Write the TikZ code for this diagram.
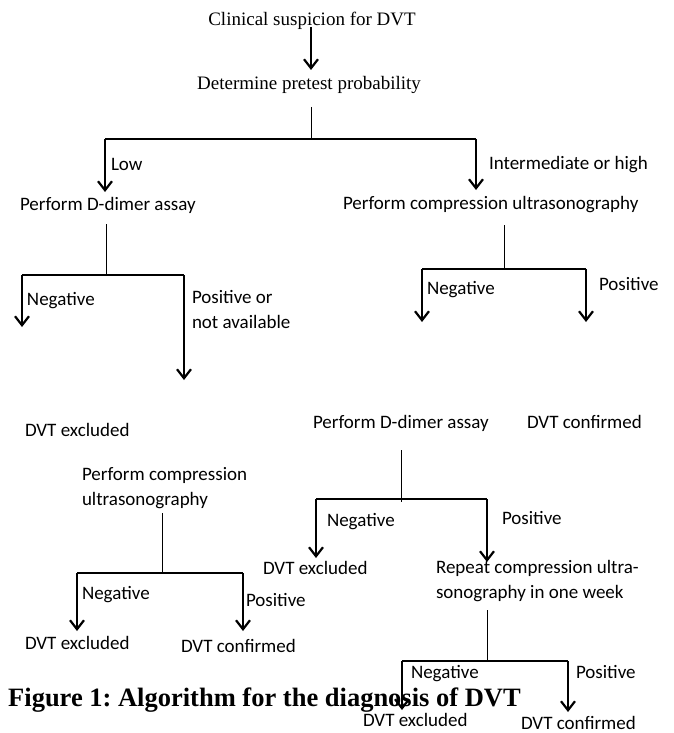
\documentclass[tikz,border=0pt]{standalone}
\usepackage{fontspec}
\setmainfont{Liberation Serif}
\newfontfamily\calib{Carlito}
\usetikzlibrary{arrows.meta}
\frenchspacing
\begin{document}
\begin{tikzpicture}[x=1pt,y=-1pt,
  lbl/.style={inner sep=0pt, outer sep=0pt, font=\calib\fontsize{19}{25}\selectfont, anchor=base west, align=left},
  ser/.style={inner sep=0pt, outer sep=0pt, font=\fontsize{19}{23}\selectfont, anchor=base},
  stem/.style={line width=0.9pt},
  bar/.style={line width=1.3pt},
  arr/.style={line width=2.2pt, -{Straight Barb[length=9pt,width=14pt]}}]
\useasboundingbox[fill=white] (0,0) rectangle (673,733);
% texts
\node[ser] (c1) at (312,26) {Clinical suspicion for DVT};
\node[ser] (c2) at (309,90) {Determine pretest probability};
\node[lbl] (low) at (111,170) {Low};
\node[lbl] (int) at (489,169) {Intermediate or high};
\node[lbl] (pd1) at (20,210) {Perform D-dimer assay};
\node[lbl] (pcu1) at (343,209) {Perform compression ultrasonography};
\node[lbl] (neg1) at (27,305) {Negative};
\node[lbl] (pos1) at (192,328) {Positive or\\not available};
\node[lbl] (neg3) at (427,294) {Negative};
\node[lbl] (pos3) at (599,290) {Positive};
\node[lbl] (ex1) at (25,436) {DVT excluded};
\node[lbl] (pd2) at (313,428) {Perform D-dimer assay};
\node[lbl] (conf1) at (527,428) {DVT confirmed};
\node[lbl] (pcu2) at (82,505) {Perform compression\\ultrasonography};
\node[lbl] (neg4) at (327,526) {Negative};
\node[lbl] (pos4) at (502,524) {Positive};
\node[lbl] (ex3) at (263,574) {DVT excluded};
\node[lbl] (rep) at (436,598) {Repeat compression ultra-\\sonography in one week};
\node[lbl] (neg2) at (82,599) {Negative};
\node[lbl] (pos2) at (246,606) {Positive};
\node[lbl] (ex2) at (25,649) {DVT excluded};
\node[lbl] (conf2) at (181,652) {DVT confirmed};
\node[lbl] (neg5) at (411,678) {Negative};
\node[lbl] (pos5) at (576,678) {Positive};
\node[lbl] (ex4) at (363,726) {DVT excluded};
\node[lbl] (conf3) at (521,729) {DVT confirmed};
% junction coordinates
\coordinate (a0s) at (311,27);   \coordinate (a0e) at (311,70);
\coordinate (s1a) at (311,107);  \coordinate (s1b) at (311,139);
\coordinate (h1l) at (105,139);  \coordinate (h1r) at (476,139);
\coordinate (t1l) at (105,192);  \coordinate (t1r) at (476,190);
\coordinate (s2a) at (106,224);  \coordinate (s2b) at (106,275);
\coordinate (h2l) at (22,275);   \coordinate (h2r) at (184,275);
\coordinate (t2l) at (22,327);   \coordinate (t2r) at (184,380);
\coordinate (s3a) at (504,225);  \coordinate (s3b) at (504,269);
\coordinate (h3l) at (422,269);  \coordinate (h3r) at (586,269);
\coordinate (t3l) at (422,322);  \coordinate (t3r) at (586,322);
\coordinate (s4a) at (162,513);  \coordinate (s4b) at (162,573);
\coordinate (h4l) at (77,573);   \coordinate (h4r) at (243,573);
\coordinate (t4l) at (77,631);   \coordinate (t4r) at (243,631);
\coordinate (s5a) at (401,450);  \coordinate (s5b) at (401,502);
\coordinate (h5l) at (316,499);  \coordinate (h5r) at (487,499);
\coordinate (t5l) at (316,558);  \coordinate (t5r) at (487,562);
\coordinate (s6a) at (487,610);  \coordinate (s6b) at (487,661);
\coordinate (h6l) at (402,661);  \coordinate (h6r) at (568,661);
\coordinate (t6l) at (402,710);  \coordinate (t6r) at (568,712);
% connectors
\draw[arr] (a0s) -- (a0e);
\draw[stem] (s1a) -- (s1b);
\draw[bar] (h1l) -- (h1r);
\draw[arr] (h1l) -- (t1l);
\draw[arr] (h1r) -- (t1r);
\draw[stem] (s2a) -- (s2b);
\draw[bar] (h2l) -- (h2r);
\draw[arr] (h2l) -- (t2l);
\draw[arr] (h2r) -- (t2r);
\draw[stem] (s3a) -- (s3b);
\draw[bar] (h3l) -- (h3r);
\draw[arr] (h3l) -- (t3l);
\draw[arr] (h3r) -- (t3r);
\draw[stem] (s4a) -- (s4b);
\draw[bar] (h4l) -- (h4r);
\draw[arr] (h4l) -- (t4l);
\draw[arr] (h4r) -- (t4r);
\draw[stem] (s5a) -- (s5b);
\draw[bar] (h5l) -- (h5r);
\draw[arr] (h5l) -- (t5l);
\draw[arr] (h5r) -- (t5r);
\draw[stem] (s6a) -- (s6b);
\draw[bar] (h6l) -- (h6r);
\draw[arr] (h6l) -- (t6l);
\draw[arr] (h6r) -- (t6r);
% caption
\node[inner sep=0pt, anchor=base west, font=\bfseries\fontsize{26.5}{30}\selectfont] (cap) at (8,706) {Figure 1: Algorithm for the diagnosis of DVT};
\end{tikzpicture}
\end{document}
